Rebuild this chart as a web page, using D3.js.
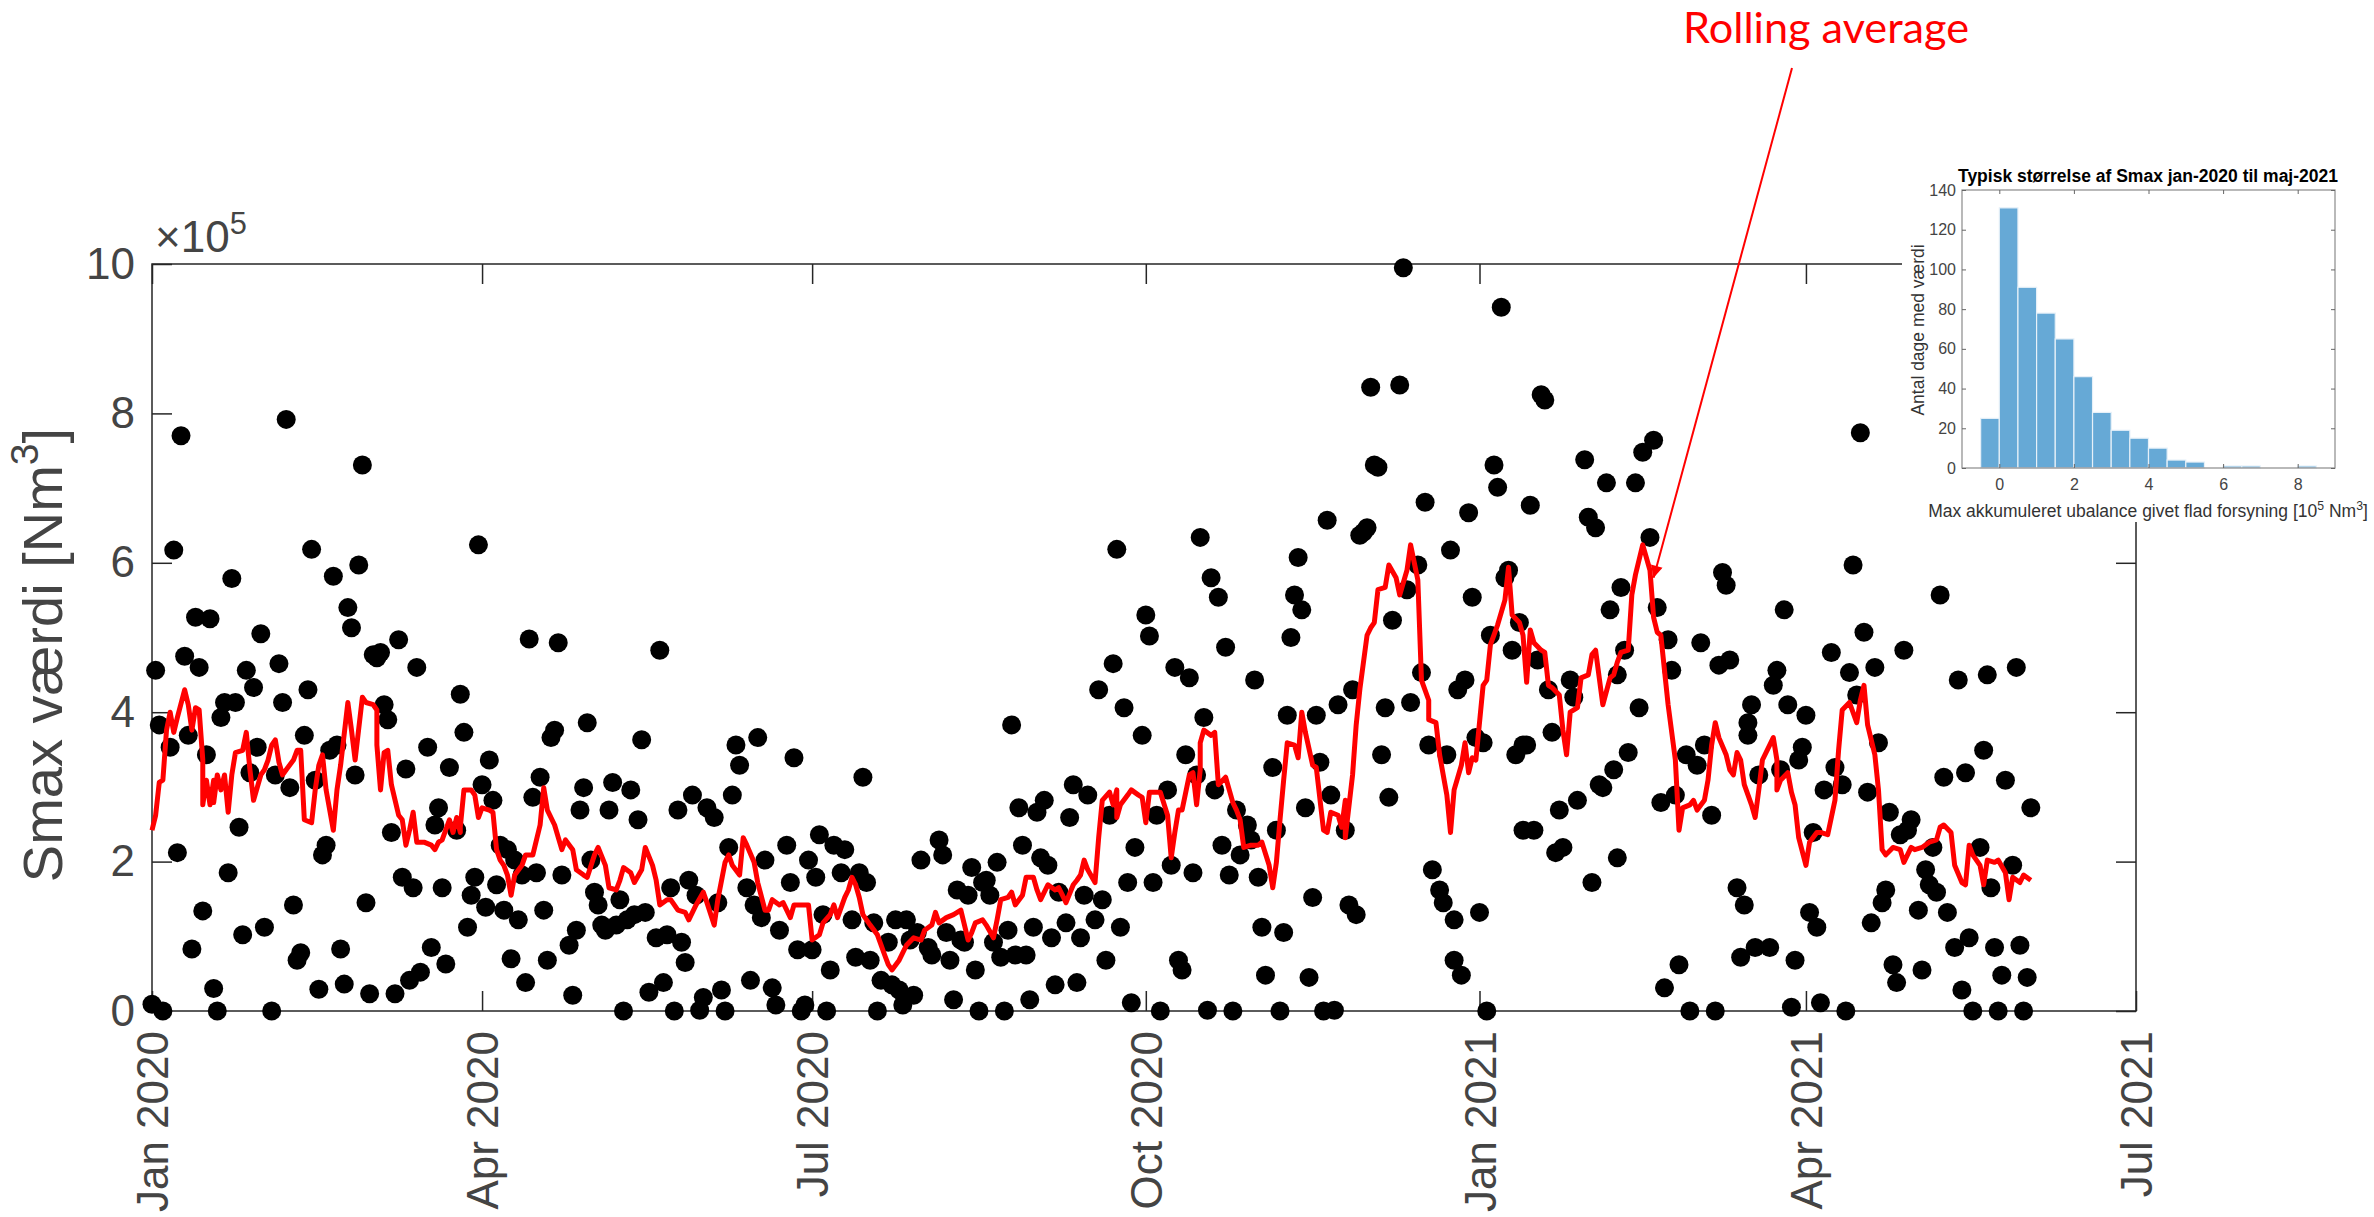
<!DOCTYPE html>
<html><head><meta charset="utf-8">
<script src="https://cdn.jsdelivr.net/npm/d3@7"></script>
<style>html,body{margin:0;padding:0;background:#fff;} svg{display:block;}</style>
</head><body>
<svg id="chart" width="2374" height="1217"></svg>
<script>
// ---- Data (day = days since 2020-01-01, value in 10^5 Nm^3) ----
const smaxPoints = [
[0,0.09],[1,4.56],[2,3.83],[3,0],[5,3.53],[6,6.17],[7,2.12],[8,7.70],[9,4.75],[10,3.69],[11,0.83],[12,5.27],[13,4.60],[14,1.34],[15,3.43],[16,5.25],[17,0.30],[18,0],[19,3.93],[20,4.13],[21,1.85],[22,5.79],[23,4.13],[24,2.46],[25,1.02],[26,4.56],[27,3.19],[28,4.33],[29,3.53],[30,5.05],[31,1.12],[33,0],[34,3.16],[35,4.65],[36,4.13],[37,7.92],[38,2.99],[39,1.42],[40,0.68],[41,0.78],[42,3.69],[43,4.30],[44,6.18],[45,3.09],[46,0.29],[47,2.09],[48,2.22],[49,3.49],[50,5.82],[51,3.56],[52,0.83],[53,0.36],[54,5.40],[55,5.13],[56,3.16],[57,5.97],[58,7.31],[59,1.45],[60,0.23],[61,4.77],[62,4.73],[63,4.80],[64,4.10],[65,3.90],[66,2.39],[67,0.23],[68,4.97],[69,1.79],[70,3.24],[71,0.41],[72,1.65],[73,4.60],[74,0.52],[76,3.53],[77,0.85],[78,2.49],[79,2.72],[80,1.65],[81,0.63],[82,3.26],[84,2.42],[85,4.24],[86,3.73],[87,1.12],[88,1.55],[89,1.79],[90,6.24],[91,3.03],[92,1.39],[93,3.36],[94,2.82],[95,1.69],[96,2.22],[97,1.35],[98,2.16],[99,0.70],[100,2.02],[101,1.22],[102,1.82],[103,0.38],[104,4.98],[105,2.86],[106,1.85],[107,3.13],[108,1.35],[109,0.68],[110,3.66],[111,3.76],[112,4.93],[113,1.82],
[115,0.88],[116,0.21],[117,1.08],[118,2.69],[119,2.99],[120,3.86],[121,2.02],[122,1.59],[123,1.42],[124,1.15],[125,1.08],[126,2.69],[127,3.06],[128,1.15],[129,1.49],[130,0],[131,1.22],[132,2.96],[133,1.29],[134,2.56],[135,3.63],[136,1.32],[137,0.25],[139,0.98],[140,4.83],[141,0.38],[142,1.02],[143,1.65],[144,0],[145,2.69],[146,0.92],[147,0.65],[148,1.75],[149,2.89],[150,1.55],[151,0.01],[152,0.18],[153,2.72],[155,2.59],[156,1.45],[157,0.28],[158,0],[159,2.19],[160,2.89],[161,3.56],[162,3.29],[164,1.65],[165,0.41],[166,1.42],[167,3.66],[168,1.25],[169,2.02],[171,0.31],[172,0.08],[173,1.08],[175,2.22],[176,1.72],[177,3.39],[178,0.82],[179,0],[180,0.08],[181,2.02],[182,0.82],[183,1.79],[184,2.36],[185,1.29],[186,0],[187,0.55],[188,2.22],[190,1.85],[191,2.16],[193,1.22],[194,0.72],[195,1.85],[196,3.13],[197,1.72],[198,0.68],[199,1.18],[200,0],[201,0.41],[203,0.92],[204,0.35],[205,1.22],[206,0.28],[207,0.08],[208,1.22],[209,0.95],[210,0.21],[211,1.05],[212,2.02],[214,0.85],[215,0.75],[217,2.29],[218,2.09],[219,1.05],[220,0.68],[221,0.15],[222,1.62],[223,0.95],
[224,0.92],[225,1.55],[226,1.92],[227,0.55],[228,0],[229,1.72],[230,1.75],[231,1.55],[232,0.92],[233,1.99],[234,0.72],[235,0],[236,1.08],[237,3.83],[238,0.75],[239,2.72],[240,2.22],[241,0.75],[242,0.15],[243,1.12],[244,2.66],[245,2.05],[246,2.82],[247,1.95],[248,0.98],[249,0.35],[250,1.59],[252,1.18],[253,2.59],[254,3.03],[255,0.38],[256,0.98],[257,1.55],[258,2.89],[260,1.22],[261,4.30],[262,1.49],[263,0.68],[264,2.62],[265,4.65],[266,6.18],[267,1.12],[268,4.06],[269,1.72],[270,0.11],[271,2.19],[273,3.69],[274,5.30],[275,5.02],[276,1.72],[277,2.62],[278,0],[280,2.96],[281,1.95],[282,4.60],[283,0.68],[284,0.55],[285,3.43],[286,4.46],[287,1.85],[288,3.16],[289,6.34],[290,3.93],[291,0.01],[292,5.80],[293,2.96],[294,5.54],[295,2.22],[296,4.87],[297,1.82],[298,0],[299,2.69],[300,2.09],[302,2.49],[303,2.29],[304,4.43],[305,1.79],[306,1.12],[307,0.48],[309,3.26],[310,2.42],[311,0],[312,1.05],[313,3.96],[314,5.00],[315,5.57],[316,6.07],[317,5.37],[318,2.72],[319,0.45],[320,1.52],[321,3.96],[322,3.33],[323,0],[324,6.57],[325,2.89],[326,0.01],[327,4.10],[329,2.42],[330,1.42],[331,4.30],[332,1.29],[333,6.37],
[334,6.41],[335,6.47],[336,8.35],[337,7.31],[338,7.28],[339,3.43],[340,4.06],[341,2.86],[342,5.23],[344,8.38],[345,9.95],[346,5.64],[347,4.13],[349,5.97],[350,4.53],[351,6.81],[352,3.56],[353,1.89],[355,1.62],[356,1.45],[357,3.43],[358,6.17],[359,1.22],[359,0.68],[360,4.30],[361,0.48],[362,4.43],[363,6.67],[364,5.54],[365,3.66],[366,1.32],[367,3.59],[368,0],[369,5.03],[370,7.31],[371,7.01],[372,9.42],[373,5.80],[374,5.90],[375,4.83],[376,3.43],[377,5.20],[378,3.56],[378,2.42],[379,3.56],[380,6.77],[381,2.42],[382,4.70],[383,8.25],[384,8.18],[385,4.30],[386,3.73],[387,2.12],[388,2.69],[389,2.19],[391,4.43],[392,4.20],[393,2.82],[395,7.38],[396,6.61],[397,1.72],[398,6.47],[399,3.03],[400,2.99],[401,7.07],[402,5.37],[403,3.23],[404,2.05],[404,4.50],[405,5.67],[406,4.83],[407,3.46],[409,7.07],[410,4.06],[411,7.48],[413,6.34],[414,7.64],[415,5.40],[416,2.79],[417,0.31],[418,4.97],[419,4.56],[420,2.89],[421,0.62],[423,3.43],[424,0],[426,3.29],[427,4.93],[428,3.56],[430,2.62],[431,0],[432,4.63],[433,5.87],[434,5.70],[435,4.70],[437,1.65],[438,0.72],[439,1.42],[440,3.86],[440,3.69],[441,4.10],[442,0.85],
[443,3.16],[446,0.85],[447,4.36],[448,4.56],[449,3.23],[450,5.37],[451,4.10],[452,0.05],[453,0.68],[454,3.36],[455,3.53],[456,3.96],[457,1.32],[458,2.39],[459,1.12],[460,0.11],[461,2.96],[463,4.80],[464,3.26],[466,3.03],[467,0],[468,4.53],[469,5.97],[470,4.23],[471,7.74],[472,5.07],[473,2.93],[474,1.18],[475,4.60],[476,3.59],[477,1.45],[478,1.62],[479,2.66],[480,0.62],[481,0.38],[482,2.36],[483,4.83],[484,2.42],[485,2.56],[487,1.35],[488,0.55],[489,1.89],[490,1.69],[491,2.19],[492,1.59],[493,5.57],[494,3.13],[495,1.32],[497,0.85],[498,4.43],[499,0.28],[500,3.19],[501,0.98],[502,0],[504,2.19],[505,3.49],[506,4.50],[507,1.65],[508,0.85],[509,0],[510,0.48],[511,3.09],[513,1.95],[514,4.60],[515,0.88],[516,0],[517,0.45],[518,2.72]
];

const rollingAvg = [
[0,2.42],[1,2.62],[2,3.06],[3,3.09],[4,3.76],[5,4.00],[6,3.73],[7,3.93],[9,4.30],[10,4.10],[11,3.76],[12,4.06],[13,4.03],[14,3.36],[14,2.76],[15,3.09],[16,2.76],[17,3.09],[17,2.79],[18,3.16],[19,2.96],[20,3.16],[21,2.66],[22,3.16],[23,3.46],[25,3.49],[26,3.73],[27,3.23],[28,2.82],[30,3.16],[31,3.23],[32,3.36],[33,3.56],[34,3.63],[35,3.33],[36,3.16],[37,3.23],[39,3.36],[40,3.49],[41,3.49],[42,2.56],[44,2.52],[45,2.96],[46,3.29],[47,3.43],[48,2.96],[50,2.42],[51,2.96],[52,3.29],[54,4.13],[55,3.76],[56,3.36],[58,4.20],[59,4.13],[61,4.10],[62,4.03],[62,3.56],[63,2.96],[64,3.46],[65,3.49],[66,3.03],[68,2.62],[69,2.56],[70,2.22],[71,2.42],[72,2.66],[73,2.26],[75,2.26],[77,2.22],[78,2.16],[79,2.26],[80,2.29],[82,2.56],[83,2.39],[84,2.59],[85,2.39],[85,2.46],[86,2.96],[88,2.96],[89,2.89],[90,2.59],[91,2.72],[93,2.69],[94,2.66],[95,2.16],[96,2.02],[97,1.95],[98,1.82],[99,1.55],[100,1.82],[102,1.95],[103,2.09],[105,2.09],[107,2.49],[108,2.99],[109,2.69],[111,2.49],[113,2.16],
[114,2.29],[116,2.16],[117,1.89],[119,1.82],[120,1.79],[122,2.09],[123,2.19],[125,1.95],[126,1.65],[128,1.62],[129,1.75],[130,1.92],[132,1.85],[133,1.72],[135,1.89],[136,2.19],[138,1.95],[139,1.75],[140,1.42],[142,1.49],[143,1.49],[145,1.35],[147,1.32],[148,1.22],[150,1.42],[152,1.59],[153,1.45],[155,1.15],[156,1.49],[158,1.99],[159,2.09],[160,1.95],[162,1.82],[163,2.32],[164,2.22],[166,1.99],[167,1.72],[169,1.35],[170,1.35],[171,1.49],[173,1.42],[174,1.45],[176,1.25],[177,1.42],[179,1.42],[181,1.42],[182,0.95],[184,1.02],[185,1.18],[187,1.29],[188,1.42],[189,1.25],[191,1.52],[192,1.62],[193,1.79],[194,1.69],[195,1.52],[196,1.29],[198,1.15],[200,1.02],[202,0.75],[203,0.62],[204,0.55],[206,0.68],[208,0.88],[210,0.98],[212,0.95],[213,1.08],[215,1.15],[216,1.32],[217,1.18],[219,1.25],[221,1.29],[223,1.35],
[225,0.95],[226,1.05],[227,1.18],[229,1.22],[230,1.15],[232,0.98],[233,1.22],[234,1.49],[236,1.52],[237,1.59],[238,1.42],[240,1.55],[241,1.79],[243,1.79],[244,1.62],[245,1.49],[247,1.69],[249,1.62],[250,1.65],[251,1.55],[252,1.45],[254,1.69],[255,1.75],[256,1.82],[257,2.02],[258,1.89],[260,1.72],[261,2.32],[262,2.82],[264,2.93],[265,2.76],[266,2.96],[266,2.59],[267,2.76],[269,2.89],[270,2.96],[272,2.89],[273,2.86],[274,2.52],[275,2.93],[277,2.93],[278,2.93],[280,2.62],[281,2.05],[282,2.39],[283,2.69],[284,2.69],[286,3.16],[287,3.19],[288,2.76],[289,3.23],[289,3.59],[290,3.76],[292,3.69],[293,3.73],[294,3.03],[296,3.13],[297,2.96],[298,2.79],[299,2.69],[300,2.56],[301,2.19],[303,2.22],[305,2.22],[306,2.26],[308,1.95],[309,1.65],[310,1.99],[311,2.56],[312,3.09],[313,3.59],[315,3.56],[316,3.39],[317,4.00],[318,3.73],[320,3.29],[321,3.26],[323,2.42],[324,2.39],[325,2.66],[327,2.62],[328,2.46],[329,2.82],[329,2.32],[331,3.16],
[332,3.83],[333,4.30],[335,5.03],[336,5.13],[337,5.20],[338,5.64],[340,5.67],[341,5.97],[343,5.80],[344,5.57],[346,5.90],[347,6.24],[349,5.77],[350,4.43],[352,4.16],[352,3.90],[354,3.86],[355,3.43],[357,2.89],[358,2.39],[359,2.96],[361,3.29],[362,3.59],[363,3.19],[364,3.39],[365,3.36],[367,4.36],[368,4.43],[369,4.90],[371,5.17],[373,5.50],[374,5.94],[375,5.30],[377,5.20],[378,5.03],[379,4.40],[380,5.10],[381,4.93],[383,4.83],[384,4.80],[385,4.36],[386,4.33],[388,4.23],[389,3.76],[390,3.43],[391,4.00],[393,4.06],[394,4.46],[396,4.50],[397,4.77],[398,4.83],[400,4.10],[402,4.46],[403,4.50],[404,4.67],[405,4.80],[407,4.83],[408,5.57],[409,5.84],[411,6.24],[413,5.90],[414,5.27],[415,5.07],[416,5.03],[417,4.56],[418,4.10],[420,3.36],[421,2.42],[422,2.72],[424,2.76],[425,2.82],[426,2.69],[428,2.82],[429,3.09],[430,3.56],[431,3.86],[432,3.66],[434,3.43],[435,3.23],[436,3.16],[437,3.46],[438,3.36],[439,3.03],[441,2.76],[442,2.59],[443,2.96],
[444,3.36],[446,3.56],[447,3.66],[448,3.36],[448,2.96],[449,3.09],[451,3.19],[452,2.93],[453,2.76],[454,2.32],[456,1.95],[457,2.26],[459,2.39],[460,2.39],[462,2.36],[464,2.82],[465,3.49],[466,4.03],[468,4.13],[470,3.86],[471,4.16],[472,4.36],[473,3.83],[474,3.63],[475,3.43],[476,2.96],[477,2.16],[478,2.09],[480,2.19],[482,2.16],[483,1.99],[485,2.19],[486,2.16],[488,2.19],[490,2.26],[492,2.29],[493,2.46],[494,2.49],[496,2.39],[497,1.95],[499,1.72],[500,1.69],[501,2.22],[502,2.09],[504,1.95],[505,1.69],[506,2.02],[508,1.99],[509,2.02],[511,1.85],[512,1.49],[513,1.79],[515,1.72],[516,1.82],[518,1.75]
];

const yTicks = [0, 2, 4, 6, 8, 10];
const xTickDates = ["2020-01-01","2020-04-01","2020-07-01","2020-10-01","2021-01-01","2021-04-01","2021-07-01"];
const xTickLabels = ["Jan 2020","Apr 2020","Jul 2020","Oct 2020","Jan 2021","Apr 2021","Jul 2021"];

const histBinEdges = [-0.5,0,0.5,1,1.5,2,2.5,3,3.5,4,4.5,5,5.5,6,6.5,7,7.5,8,8.5];
const histCounts   = [25,131,91,78,65,46,28,19,15,10,4,3,0,1,1,0,0,1];
const histXTicks = [0, 2, 4, 6, 8];
const histYTicks = [0, 20, 40, 60, 80, 100, 120, 140];

const annotationText = "Rolling average";
const annotationTarget = [414, 5.8];

// ---- Drawing ----
const FONT = "'Liberation Sans', Arial, Helvetica, sans-serif";
const AX = "#262626";
const TXT = "#444444";
const svg = d3.select("#chart");
const start = new Date(Date.UTC(2020, 0, 1));
const toDate = d => d3.utcDay.offset(start, d);
const parse = d3.utcParse("%Y-%m-%d");

const x = d3.scaleUtc().domain([start, new Date(Date.UTC(2021, 6, 1))]).range([152, 2136]);
const y = d3.scaleLinear().domain([0, 10]).range([1011, 264]);

function styleAxis(g) {
  g.select(".domain").remove();
  g.selectAll(".tick line").attr("stroke", AX).attr("stroke-width", 1.5);
  g.selectAll("text").attr("fill", TXT).style("font-family", FONT);
}

// box
svg.append("rect").attr("x", x.range()[0]).attr("y", y.range()[1])
  .attr("width", x.range()[1] - x.range()[0]).attr("height", y.range()[0] - y.range()[1])
  .attr("fill", "none").attr("stroke", AX).attr("stroke-width", 1.5);

const tickDates = xTickDates.map(parse);
const labelOf = new Map(tickDates.map((d, i) => [+d, xTickLabels[i]]));

const gB = svg.append("g").attr("transform", `translate(0,${y.range()[0]})`)
  .call(d3.axisBottom(x).tickValues(tickDates).tickSize(-20).tickSizeOuter(0).tickFormat(d => labelOf.get(+d)));
styleAxis(gB);
gB.selectAll("text").style("font-size", "44px")
  .attr("transform", "rotate(-90)").attr("text-anchor", "end")
  .attr("x", -20).attr("y", 0).attr("dy", "0.36em");

svg.append("g").attr("transform", `translate(0,${y.range()[1]})`)
  .call(d3.axisTop(x).tickValues(tickDates).tickSize(-20).tickSizeOuter(0).tickFormat(""))
  .call(styleAxis);

const gL = svg.append("g").attr("transform", `translate(${x.range()[0]},0)`)
  .call(d3.axisLeft(y).tickValues(yTicks).tickSize(-20).tickSizeOuter(0).tickPadding(17).tickFormat(d3.format("d")));
styleAxis(gL);
gL.selectAll("text").style("font-size", "44px");

svg.append("g").attr("transform", `translate(${x.range()[1]},0)`)
  .call(d3.axisRight(y).tickValues(yTicks).tickSize(-20).tickSizeOuter(0).tickFormat(""))
  .call(styleAxis);

// helper: text with superscripts
function richText(sel, parts, fs) {
  let prevSup = false;
  parts.forEach(([t, sup]) => {
    const ts = sel.append("tspan").text(t);
    if (sup && !prevSup) ts.attr("dy", -0.42 * fs).style("font-size", (0.7 * fs) + "px");
    else if (!sup && prevSup) ts.attr("dy", 0.42 * fs).style("font-size", fs + "px");
    else ts.style("font-size", (sup ? 0.7 * fs : fs) + "px");
    prevSup = sup;
  });
}

// exponent label
const expT = svg.append("text").attr("x", 155).attr("y", 252)
  .attr("fill", TXT).style("font-family", FONT);
richText(expT, [["\u00d710", false], ["5", true]], 44);

// y label
const yl = svg.append("text").attr("transform", "translate(62,655) rotate(-90)")
  .attr("text-anchor", "middle").attr("fill", TXT).style("font-family", FONT);
richText(yl, [["Smax værdi [Nm", false], ["3", true], ["]", false]], 56);

// points
svg.append("g").selectAll("circle").data(smaxPoints).join("circle")
  .attr("cx", d => x(toDate(d[0]))).attr("cy", d => y(d[1])).attr("r", 9.5).attr("fill", "#000");

// rolling average
svg.append("path").datum(rollingAvg)
  .attr("d", d3.line().x(d => x(toDate(d[0]))).y(d => y(d[1])))
  .attr("fill", "none").attr("stroke", "#ff0000").attr("stroke-width", 5).attr("stroke-linejoin", "round");

// ---- inset histogram ----
svg.append("rect").attr("x", 1902).attr("y", 140).attr("width", 472).attr("height", 382).attr("fill", "#fff");

const hx = d3.scaleLinear().domain([-1, 9]).range([1962, 2335]);
const hy = d3.scaleLinear().domain([0, 140]).range([468, 190]);

const bins = histCounts.map((c, i) => ({ x0: histBinEdges[i], x1: histBinEdges[i + 1], c }));
svg.append("g").selectAll("rect").data(bins.filter(b => b.c > 0)).join("rect")
  .attr("x", b => hx(b.x0)).attr("width", b => hx(b.x1) - hx(b.x0))
  .attr("y", b => hy(b.c)).attr("height", b => hy(0) - hy(b.c))
  .attr("fill", "#66a9d6").attr("stroke", "#e6f0f8").attr("stroke-width", 1.2);

svg.append("rect").attr("x", hx.range()[0]).attr("y", hy.range()[1])
  .attr("width", hx.range()[1] - hx.range()[0]).attr("height", hy.range()[0] - hy.range()[1])
  .attr("fill", "none").attr("stroke", "#8a8a8a").attr("stroke-width", 1.2);

const hB = svg.append("g").attr("transform", `translate(0,${hy.range()[0]})`)
  .call(d3.axisBottom(hx).tickValues(histXTicks).tickSize(-4).tickSizeOuter(0).tickPadding(11));
styleAxis(hB);
hB.selectAll("text").style("font-size", "16px");
svg.append("g").attr("transform", `translate(0,${hy.range()[1]})`)
  .call(d3.axisTop(hx).tickValues(histXTicks).tickSize(-4).tickSizeOuter(0).tickFormat(""))
  .call(styleAxis);
const hL = svg.append("g").attr("transform", `translate(${hx.range()[0]},0)`)
  .call(d3.axisLeft(hy).tickValues(histYTicks).tickSize(-4).tickSizeOuter(0).tickPadding(6));
styleAxis(hL);
hL.selectAll("text").style("font-size", "16px");
svg.append("g").attr("transform", `translate(${hx.range()[1]},0)`)
  .call(d3.axisRight(hy).tickValues(histYTicks).tickSize(-4).tickSizeOuter(0).tickFormat(""))
  .call(styleAxis);
svg.selectAll(".tick line").filter(function(){ return Math.abs(+this.getAttribute("y2")) === 4 || Math.abs(+this.getAttribute("x2")) === 4; })
  .attr("stroke-width", 1).attr("stroke", "#666");

svg.append("text").attr("x", 2148).attr("y", 182).attr("text-anchor", "middle")
  .style("font-family", FONT).style("font-size", "17.5px").style("font-weight", "bold").attr("fill", "#000")
  .text("Typisk størrelse af Smax jan-2020 til maj-2021");

svg.append("text").attr("transform", "translate(1924,330) rotate(-90)").attr("text-anchor", "middle")
  .style("font-family", FONT).style("font-size", "17.5px").attr("fill", "#333")
  .text("Antal dage med værdi");

const hxl = svg.append("text").attr("x", 2148).attr("y", 517).attr("text-anchor", "middle")
  .attr("fill", "#333").style("font-family", FONT);
richText(hxl, [["Max akkumuleret ubalance givet flad forsyning [10", false], ["5", true], [" Nm", false], ["3", true], ["]", false]], 17.5);

// ---- annotation ----
svg.append("defs").append("marker").attr("id", "arr").attr("viewBox", "0 0 10 10")
  .attr("refX", 10).attr("refY", 5).attr("markerWidth", 7).attr("markerHeight", 6)
  .attr("markerUnits", "strokeWidth").attr("orient", "auto")
  .append("path").attr("d", "M0,0 L10,5 L0,10 z").attr("fill", "#ff0000");

svg.append("text").attr("x", 1683).attr("y", 43)
  .style("font-family", "Lato, 'Open Sans', sans-serif").style("font-size", "42px")
  .attr("fill", "#ff0000").attr("textLength", 286).attr("lengthAdjust", "spacingAndGlyphs")
  .text(annotationText);

svg.append("line").attr("x1", 1792).attr("y1", 68)
  .attr("x2", x(toDate(annotationTarget[0]))).attr("y2", y(annotationTarget[1]))
  .attr("stroke", "#ff0000").attr("stroke-width", 2).attr("marker-end", "url(#arr)");
</script>
</body></html>
